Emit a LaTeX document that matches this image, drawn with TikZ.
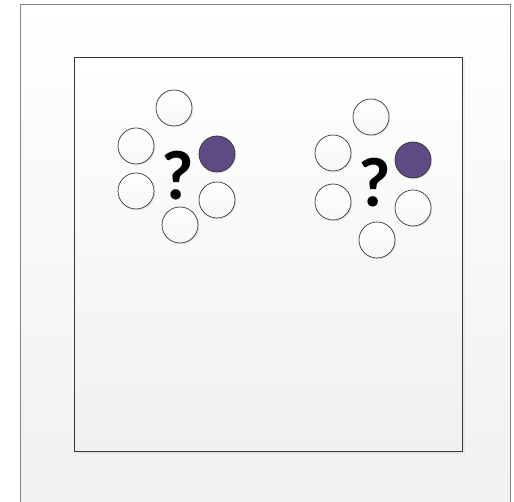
\documentclass[tikz,border=0pt]{standalone}
\usepackage{fontspec}
\setmainfont{Carlito}
\usetikzlibrary{shadows}
\definecolor{FrameGray}{RGB}{130,130,130}
\definecolor{PaneTop}{RGB}{255,255,255}
\definecolor{PaneBottom}{RGB}{240,240,240}
\definecolor{DotPurple}{RGB}{94,75,133}
\definecolor{DotEdge}{RGB}{55,55,55}

\tikzset{
  ball/.style={circle, minimum size=36pt, inner sep=0pt, draw=DotEdge, line width=0.7pt,
    top color=white, bottom color=white!93!gray,
    drop shadow={opacity=0.18, shadow xshift=1.2pt, shadow yshift=-1.2pt}},
  pick/.style={ball, fill=DotPurple, top color=DotPurple, bottom color=DotPurple},
  ask/.style={font=\fontsize{70}{74}\selectfont\bfseries, text=black, inner sep=0pt}
}

\begin{document}
\begin{tikzpicture}[x=1pt,y=-1pt]
  \path[use as bounding box] (0,0) rectangle (514,502);
  \clip (0,0) rectangle (514,502);

  % Outer page
  \shade[top color=PaneTop, bottom color=PaneBottom] (20,4) rectangle (510,520);
  \draw[FrameGray, line width=0.8pt] (20,4) rectangle (510,520);

  % Inner pane
  \fill[black, opacity=0.05] (76,59) rectangle (465,454);
  \shade[top color=PaneTop, bottom color=PaneBottom] (74,57) rectangle (462,451);
  \draw[DotEdge, line width=0.8pt] (74,57) rectangle (462,451);

  % Left group
  \node[ball] (lt) at (174,108) {};
  \node[ball] (lul) at (136,146) {};
  \node[pick] (lp) at (217,154) {};
  \node[ball] (lll) at (136,191) {};
  \node[ball] (llr) at (217,200) {};
  \node[ball] (lb) at (180,225) {};
  \node[ask] (lq) at (177.5,176) {?};

  % Right group
  \node[ball] (rt) at (371,117) {};
  \node[ball] (rul) at (333,153) {};
  \node[pick] (rp) at (413,160) {};
  \node[ball] (rll) at (333,202) {};
  \node[ball] (rlr) at (413,208) {};
  \node[ball] (rb) at (377,240) {};
  \node[ask] (rq) at (374.5,183) {?};
\end{tikzpicture}
\end{document}
